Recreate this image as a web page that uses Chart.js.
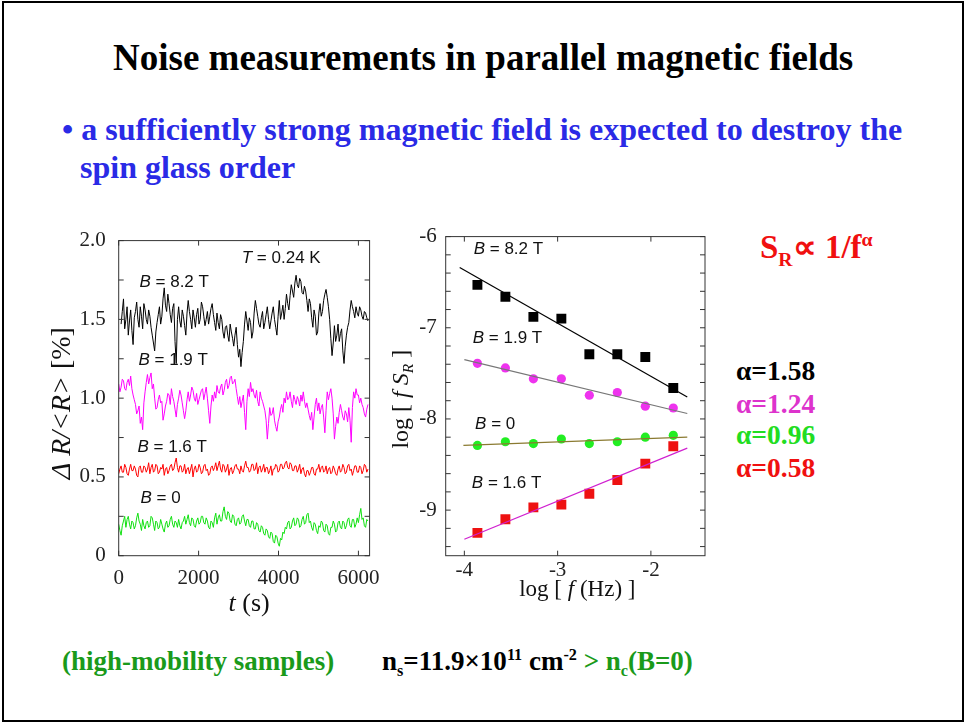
<!DOCTYPE html>
<html>
<head>
<meta charset="utf-8">
<script src="https://cdn.jsdelivr.net/npm/chart.js"></script>
<style>
  html, body { margin: 0; padding: 0; background: #fff; }
  #page { position: relative; width: 966px; height: 724px; overflow: hidden; background: #fff; }
  #frame { position: absolute; left: 2px; top: 1px; width: 958px; height: 717px; border: 2px solid #000; }
  .txt { position: absolute; white-space: nowrap; font-family: "Liberation Serif", serif; font-weight: bold; line-height: 1; }
  canvas { position: absolute; }
  sub, sup { font-size: 60%; line-height: 0; }
</style>
</head>
<body>
<div id="page">
  <div id="frame"></div>
  <div class="txt" style="left:113px; top:39px; font-size:37px; color:#000;">Noise measurements in parallel magnetic fields</div>
  <div class="txt" style="left:62px; top:113px; font-size:32px; color:#2a2ae6;">&bull; a sufficiently strong magnetic field is expected to destroy the</div>
  <div class="txt" style="left:80px; top:151px; font-size:32px; color:#2a2ae6;">spin glass order</div>
  <div class="txt" style="left:760px; top:231px; font-size:33px; color:#f01010;">S<sub>R</sub>&prop; 1/f<sup>&alpha;</sup></div>
  <div class="txt" style="left:736px; top:357px; font-size:27.5px; color:#000;">&alpha;=1.58</div>
  <div class="txt" style="left:736px; top:389.7px; font-size:27.5px; color:#dd33cc;">&alpha;=1.24</div>
  <div class="txt" style="left:736px; top:421px; font-size:27.5px; color:#22dd22;">&alpha;=0.96</div>
  <div class="txt" style="left:736px; top:453.7px; font-size:27.5px; color:#f01010;">&alpha;=0.58</div>
  <div class="txt" style="left:62px; top:648px; font-size:27px; color:#1a9a1a;">(high-mobility samples)</div>
  <div class="txt" style="left:382px; top:648px; font-size:27px; color:#000;">n<sub>s</sub>=11.9&times;10<sup>11</sup> cm<sup>-2</sup> <span style="color:#1a9a1a">&gt; n<sub>c</sub>(B=0)</span></div>
  <canvas id="left" width="340" height="410" style="left:50px; top:215px;"></canvas>
  <canvas id="right" width="335" height="410" style="left:385px; top:215px;"></canvas>
</div>
<script>
// ---- left panel: resistance noise vs time (t in s, values in %) ----
const times = [0,30,60,90,120,150,180,210,240,270,300,330,360,390,420,450,480,510,540,570,
  600,630,660,690,720,750,780,810,840,870,900,930,960,990,1020,1050,1080,1110,1140,1170,
  1200,1230,1260,1290,1320,1350,1380,1410,1440,1470,1500,1530,1560,1590,1620,1650,1680,1710,1740,1770,
  1800,1830,1860,1890,1920,1950,1980,2010,2040,2070,2100,2130,2160,2190,2220,2250,2280,2310,2340,2370,
  2400,2430,2460,2490,2520,2550,2580,2610,2640,2670,2700,2730,2760,2790,2820,2850,2880,2910,2940,2970,
  3000,3030,3060,3090,3120,3150,3180,3210,3240,3270,3300,3330,3360,3390,3420,3450,3480,3510,3540,3570,
  3600,3630,3660,3690,3720,3750,3780,3810,3840,3870,3900,3930,3960,3990,4020,4050,4080,4110,4140,4170,
  4200,4230,4260,4290,4320,4350,4380,4410,4440,4470,4500,4530,4560,4590,4620,4650,4680,4710,4740,4770,
  4800,4830,4860,4890,4920,4950,4980,5010,5040,5070,5100,5130,5160,5190,5220,5250,5280,5310,5340,5370,
  5400,5430,5460,5490,5520,5550,5580,5610,5640,5670,5700,5730,5760,5790,5820,5850,5880,5910,5940,5970,
  6000,6030,6060,6090,6120,6150,6180,6210,6240];

const noiseB82 = [null, null,
  1.47,1.55,1.63,1.44,1.50,1.58,1.40,1.49,1.56,1.43,1.34,1.51,1.55,1.61,1.50,1.45,1.58,1.52,1.44,1.60,
  1.56,1.50,1.47,1.56,1.52,1.45,1.40,1.35,1.30,1.42,1.48,1.53,1.58,1.47,1.52,1.63,1.70,1.59,1.55,1.66,
  1.60,1.53,1.48,1.57,1.60,1.36,1.22,1.50,1.58,1.49,1.45,1.56,1.52,1.46,1.40,1.54,1.62,1.55,1.50,1.44,
  1.56,1.51,1.45,1.53,1.57,1.47,1.50,1.61,1.58,1.52,1.46,1.50,1.55,1.47,1.52,1.57,1.60,1.53,1.48,1.43,
  1.54,1.48,1.44,1.53,1.50,1.42,1.38,1.45,1.46,1.40,1.36,1.47,1.42,1.38,1.33,1.40,1.45,1.34,1.26,1.31,
  1.20,1.29,1.36,1.47,1.55,1.49,1.43,1.51,1.48,1.38,1.42,1.54,1.62,1.57,1.52,1.47,1.45,1.51,1.55,1.44,
  1.48,1.53,1.58,1.50,1.44,1.49,1.54,1.58,1.50,1.45,1.40,1.52,1.62,1.50,1.54,1.59,1.50,1.57,1.66,1.60,
  1.56,1.65,1.72,1.68,1.64,1.73,1.78,1.72,1.70,1.76,1.74,1.67,1.66,1.71,1.68,1.62,1.55,1.63,1.60,1.51,
  1.45,1.56,1.52,1.40,1.42,1.54,1.60,1.52,1.55,1.62,1.66,1.69,1.64,1.58,1.50,1.38,1.27,1.35,1.46,1.36,
  1.40,1.47,1.36,1.41,1.44,1.30,1.22,1.33,1.40,1.45,1.48,1.56,1.62,1.58,1.55,1.51,1.58,1.54,1.52,1.58,
  1.56,1.52,1.50,1.55,1.54,1.51,1.49];

const noiseB19 = [
  1.09,1.04,1.07,1.12,1.11,1.06,1.05,1.10,1.12,1.08,1.14,1.06,1.02,0.99,0.96,0.90,0.92,0.95,0.84,0.88,
  0.80,0.97,1.04,1.10,1.15,1.09,1.13,1.16,1.06,1.09,1.00,0.93,0.94,0.99,1.02,0.97,0.98,0.86,0.90,0.95,
  0.98,1.03,1.02,0.96,1.06,1.01,0.98,0.93,0.88,0.96,1.00,1.05,1.02,0.97,0.92,0.87,0.92,0.99,1.04,0.98,
  1.02,1.07,1.05,1.00,0.98,1.03,0.96,0.99,1.02,1.05,1.06,0.99,1.03,1.07,1.00,0.92,0.84,0.95,1.02,0.98,
  1.04,1.00,1.08,1.04,1.03,1.07,1.09,1.02,1.05,1.10,1.12,1.06,1.08,1.13,1.14,1.09,1.10,1.12,1.06,1.01,
  0.96,1.01,0.94,0.98,1.02,0.91,0.80,0.98,1.06,1.01,1.10,1.04,1.06,1.02,1.00,1.05,0.98,0.95,1.04,1.00,
  0.98,0.95,0.92,0.86,0.74,0.84,0.94,0.89,0.90,0.94,0.86,0.82,0.79,0.85,0.88,0.93,0.96,0.91,1.00,0.97,
  1.04,0.99,1.00,1.04,0.98,0.94,1.02,0.99,0.96,1.01,0.99,0.95,1.02,0.98,1.04,0.98,0.94,0.97,0.93,0.89,
  0.86,0.91,0.80,0.88,0.96,1.00,0.92,0.97,0.90,0.94,0.96,0.88,0.78,0.92,1.04,0.99,1.03,1.06,1.00,0.90,
  0.74,0.82,0.88,0.84,0.91,0.96,0.92,0.88,0.86,0.92,0.90,0.85,0.94,0.86,0.72,0.94,1.04,1.00,1.06,1.02,
  1.02,0.97,1.00,0.96,0.94,0.90,0.88,0.93,0.96];

const noiseB16 = [
  0.52,0.55,0.57,0.53,0.53,0.58,0.56,0.52,0.51,0.55,0.58,0.54,0.54,0.57,0.55,0.51,0.50,0.56,0.57,0.53,
  0.53,0.57,0.56,0.53,0.55,0.59,0.52,0.56,0.58,0.53,0.54,0.58,0.57,0.52,0.53,0.56,0.55,0.58,0.51,0.55,
  0.56,0.52,0.54,0.57,0.58,0.54,0.55,0.59,0.62,0.56,0.53,0.57,0.57,0.53,0.54,0.58,0.52,0.55,0.56,0.52,
  0.55,0.58,0.50,0.55,0.57,0.53,0.54,0.58,0.56,0.52,0.53,0.57,0.58,0.54,0.55,0.51,0.52,0.56,0.57,0.54,
  0.56,0.59,0.54,0.57,0.60,0.55,0.53,0.58,0.57,0.53,0.55,0.58,0.51,0.55,0.56,0.52,0.54,0.57,0.58,0.55,
  0.55,0.52,0.57,0.54,0.53,0.57,0.60,0.56,0.56,0.53,0.54,0.58,0.58,0.54,0.55,0.59,0.52,0.56,0.57,0.53,
  0.55,0.58,0.53,0.56,0.56,0.52,0.54,0.57,0.51,0.55,0.55,0.58,0.57,0.53,0.54,0.58,0.58,0.55,0.56,0.59,
  0.60,0.56,0.55,0.59,0.58,0.54,0.54,0.57,0.57,0.53,0.55,0.58,0.52,0.55,0.56,0.52,0.50,0.54,0.54,0.51,
  0.53,0.56,0.56,0.52,0.51,0.55,0.55,0.58,0.53,0.56,0.57,0.53,0.54,0.57,0.52,0.55,0.56,0.52,0.53,0.57,
  0.55,0.52,0.51,0.55,0.57,0.53,0.54,0.58,0.56,0.52,0.53,0.57,0.58,0.54,0.55,0.51,0.54,0.57,0.57,0.53,
  0.53,0.57,0.56,0.52,0.54,0.58,0.57,0.53,0.55];

const noiseB0 = [
  0.20,0.16,0.13,0.19,0.22,0.25,0.18,0.23,0.25,0.20,0.17,0.22,0.21,0.17,0.19,0.24,0.27,0.22,0.20,0.16,
  0.23,0.19,0.17,0.21,0.22,0.18,0.19,0.25,0.24,0.20,0.16,0.22,0.21,0.17,0.18,0.23,0.20,0.17,0.15,0.20,
  0.22,0.18,0.19,0.23,0.25,0.20,0.18,0.22,0.21,0.18,0.23,0.19,0.17,0.21,0.22,0.25,0.20,0.23,0.26,0.21,
  0.19,0.24,0.23,0.19,0.18,0.22,0.24,0.20,0.21,0.25,0.25,0.21,0.20,0.24,0.22,0.18,0.17,0.22,0.21,0.18,
  0.24,0.27,0.20,0.24,0.26,0.22,0.22,0.28,0.31,0.25,0.23,0.28,0.27,0.22,0.21,0.26,0.25,0.20,0.19,0.23,
  0.24,0.20,0.21,0.25,0.26,0.22,0.19,0.23,0.23,0.19,0.18,0.22,0.22,0.17,0.17,0.21,0.20,0.16,0.15,0.19,
  0.18,0.14,0.13,0.17,0.16,0.12,0.11,0.15,0.14,0.09,0.08,0.13,0.12,0.08,0.06,0.11,0.10,0.15,0.14,0.18,
  0.17,0.21,0.22,0.17,0.18,0.22,0.24,0.19,0.20,0.24,0.23,0.18,0.19,0.23,0.25,0.20,0.21,0.26,0.27,0.21,
  0.22,0.18,0.16,0.21,0.20,0.16,0.14,0.19,0.18,0.22,0.21,0.16,0.15,0.20,0.19,0.14,0.13,0.18,0.18,0.22,
  0.20,0.15,0.16,0.21,0.22,0.18,0.17,0.22,0.21,0.17,0.19,0.23,0.24,0.19,0.18,0.23,0.23,0.18,0.20,0.24,
  0.21,0.26,0.30,0.23,0.24,0.19,0.18,0.23,0.22];

const leftXTicks = [0, 2000, 4000, 6000];
const leftXTickLabels = ["0", "2000", "4000", "6000"];
const leftYTicks = [0, 0.5, 1.0, 1.5, 2.0];
const leftYTickLabels = ["0", "0.5", "1.0", "1.5", "2.0"];
const leftYMinor = [0.25, 0.75, 1.25, 1.75];

// ---- right panel: spectra, log f S_R vs log f ----
const logF = [-3.86, -3.56, -3.26, -2.96, -2.66, -2.36, -2.06, -1.76];
const specB82 = [-6.53, -6.66, -6.88, -6.90, -7.29, -7.29, -7.32, -7.66];
const specB19 = [-7.39, -7.44, -7.56, -7.56, -7.74, -7.71, -7.86, -7.88];
const specB0 = [-8.29, -8.25, -8.27, -8.22, -8.27, -8.25, -8.20, -8.18];
const specB16 = [-9.25, -9.10, -8.97, -8.94, -8.82, -8.67, -8.49, -8.30];

// fitted straight lines (end points)
const fitB82X = [-4.05, -1.61], fitB82Y = [-6.34, -7.76];
const fitB19X = [-4.00, -1.61], fitB19Y = [-7.35, -7.94];
const fitB0X = [-4.01, -1.61], fitB0Y = [-8.29, -8.20];
const fitB16X = [-4.00, -1.61], fitB16Y = [-9.32, -8.32];

const rightXTicks = [-4, -3, -2];
const rightXTickLabels = ["-4", "-3", "-2"];
const rightYTicks = [-9, -8, -7, -6];
const rightYTickLabels = ["-9", "-8", "-7", "-6"];
const rightYMinor = [-9.4, -9.2, -8.8, -8.6, -8.4, -8.2, -7.8, -7.6, -7.4, -7.2, -6.8, -6.6, -6.4, -6.2];

const pts = (xs, ys) => xs.map((x, i) => ({ x: x, y: ys[i] }));
const tickFont = { family: "Liberation Serif", size: 21 };

function setTicks(values, labels) {
  return function (scale) {
    scale.ticks = values.map((v, i) => ({ value: v, label: labels[i] }));
  };
}

// frame + inward tick marks
const framePlugin = {
  id: "frameTicks",
  afterDatasetsDraw(chart, args, opts) {
    const ctx = chart.ctx, a = chart.chartArea;
    const xs = chart.scales.x, ys = chart.scales.y;
    ctx.save();
    ctx.strokeStyle = "#333";
    ctx.lineWidth = 1;
    ctx.strokeRect(a.left, a.top, a.right - a.left, a.bottom - a.top);
    ctx.beginPath();
    opts.y.forEach(v => {
      const py = ys.getPixelForValue(v);
      ctx.moveTo(a.left, py); ctx.lineTo(a.left + 5, py);
      ctx.moveTo(a.right, py); ctx.lineTo(a.right - 5, py);
    });
    opts.x.forEach(v => {
      const px = xs.getPixelForValue(v);
      ctx.moveTo(px, a.bottom); ctx.lineTo(px, a.bottom - 5);
      ctx.moveTo(px, a.top); ctx.lineTo(px, a.top + 5);
    });
    ctx.stroke();
    ctx.restore();
  }
};

// text with mixed italic / subscript pieces: [text, italic, subscript]
function pieceFont(p, size, family) {
  return (p[1] ? "italic " : "") + (p[2] ? size * 0.65 : size) + "px " + family;
}
function drawPieces(ctx, x, y, pieces, family, size, align) {
  let total = 0;
  pieces.forEach(p => {
    ctx.font = pieceFont(p, size, family);
    total += ctx.measureText(p[0]).width;
  });
  let cx = align === "center" ? x - total / 2 : x;
  pieces.forEach(p => {
    ctx.font = pieceFont(p, size, family);
    ctx.fillText(p[0], cx, p[2] ? y + size * 0.3 : y);
    cx += ctx.measureText(p[0]).width;
  });
}

const labelPlugin = {
  id: "labels",
  afterDraw(chart, args, opts) {
    const ctx = chart.ctx, a = chart.chartArea;
    const xs = chart.scales.x, ys = chart.scales.y;
    ctx.save();
    ctx.fillStyle = "#111";
    ctx.textBaseline = "middle";
    ctx.textAlign = "left";
    opts.notes.forEach(n => {
      drawPieces(ctx, xs.getPixelForValue(n.x), ys.getPixelForValue(n.y), n.pieces, "Liberation Sans", 17, "left");
    });
    // x axis title
    drawPieces(ctx, (a.left + a.right) / 2 + opts.xTitleDx, a.bottom + opts.xTitleDy, opts.xTitle, "Liberation Serif", opts.xTitleSize, "center");
    // y axis title (rotated)
    ctx.translate(a.left + opts.yTitleDx, (a.top + a.bottom) / 2 + opts.yTitleDy);
    ctx.rotate(-Math.PI / 2);
    drawPieces(ctx, 0, 0, opts.yTitle, "Liberation Serif", opts.yTitleSize, "center");
    ctx.restore();
  }
};

function lineSet(ys, color) {
  return { data: pts(times, ys), borderColor: color, borderWidth: 1, pointRadius: 0, tension: 0, spanGaps: false };
}

new Chart(document.getElementById("left"), {
  type: "line",
  data: {
    datasets: [
      lineSet(noiseB82, "#000000"),
      lineSet(noiseB19, "#ff00ff"),
      lineSet(noiseB16, "#ff0000"),
      lineSet(noiseB0, "#10e010")
    ]
  },
  plugins: [framePlugin, labelPlugin],
  options: {
    responsive: false,
    animation: false,
    devicePixelRatio: 1,
    layout: { padding: { top: 14, right: 13.3, left: 0, bottom: 0 } },
    plugins: {
      legend: { display: false },
      tooltip: { enabled: false },
      frameTicks: { x: leftXTicks, y: leftYTicks.concat(leftYMinor) },
      labels: {
        notes: [
          { x: 3080, y: 1.885, pieces: [["T", true], [" = 0.24 K", false]] },
          { x: 520, y: 1.737, pieces: [["B", true], [" = 8.2 T", false]] },
          { x: 495, y: 1.241, pieces: [["B", true], [" = 1.9 T", false]] },
          { x: 470, y: 0.690, pieces: [["B", true], [" = 1.6 T", false]] },
          { x: 545, y: 0.366, pieces: [["B", true], [" = 0", false]] }
        ],
        xTitle: [["t", true], [" (s)", false]],
        xTitleDx: 5, xTitleDy: 48, xTitleSize: 26,
        yTitle: [["\u0394 R/<R>", true], [" [%]", false]],
        yTitleDx: -56, yTitleDy: 5, yTitleSize: 28
      }
    },
    scales: {
      x: {
        type: "linear", min: 0, max: 6280,
        afterBuildTicks: setTicks(leftXTicks, leftXTickLabels),
        afterFit: s => { s.height = 69.3; },
        grid: { display: false, drawTicks: false },
        border: { display: false },
        ticks: { font: tickFont, color: "#222", padding: 10, maxRotation: 0, autoSkip: false, callback: (v, i) => leftXTickLabels[i] }
      },
      y: {
        type: "linear", min: 0, max: 2.0,
        afterBuildTicks: setTicks(leftYTicks, leftYTickLabels),
        afterFit: s => { s.width = 68.7; },
        grid: { display: false, drawTicks: false },
        border: { display: false },
        ticks: { font: tickFont, color: "#222", padding: 13, autoSkip: false, callback: (v, i) => leftYTickLabels[i] }
      }
    }
  }
});

function markerSet(ys, color, style, r) {
  return { type: "scatter", data: pts(logF, ys), backgroundColor: color, borderColor: color, borderWidth: 0, pointStyle: style, pointRadius: r };
}
function fitSet(xs, ys, color) {
  return { type: "line", data: pts(xs, ys), borderColor: color, borderWidth: 1.2, pointRadius: 0, showLine: true };
}

new Chart(document.getElementById("right"), {
  type: "scatter",
  data: {
    datasets: [
      fitSet(fitB82X, fitB82Y, "#000000"),
      fitSet(fitB19X, fitB19Y, "#777777"),
      fitSet(fitB0X, fitB0Y, "#8a7a30"),
      fitSet(fitB16X, fitB16Y, "#d020d0"),
      markerSet(specB82, "#000000", "rect", 7),
      markerSet(specB19, "#ee33ee", "circle", 4.6),
      markerSet(specB0, "#22ee22", "circle", 4.6),
      markerSet(specB16, "#ee1111", "rect", 7)
    ]
  },
  plugins: [framePlugin, labelPlugin],
  options: {
    responsive: false,
    animation: false,
    devicePixelRatio: 1,
    layout: { padding: { top: 14, right: 15, left: 0, bottom: 0 } },
    plugins: {
      legend: { display: false },
      tooltip: { enabled: false },
      frameTicks: { x: rightXTicks, y: rightYTicks.concat(rightYMinor) },
      labels: {
        notes: [
          { x: -3.90, y: -6.136, pieces: [["B", true], [" = 8.2 T", false]] },
          { x: -3.91, y: -7.117, pieces: [["B", true], [" = 1.9 T", false]] },
          { x: -3.885, y: -8.063, pieces: [["B", true], [" = 0", false]] },
          { x: -3.92, y: -8.706, pieces: [["B", true], [" = 1.6 T", false]] }
        ],
        xTitle: [["log [ ", false], ["f", true], [" (Hz) ]", false]],
        xTitleDx: 2, xTitleDy: 34, xTitleSize: 23,
        yTitle: [["log [ ", false], ["f S", true], ["R", true, true], [" ]", false]],
        yTitleDx: -44, yTitleDy: 3, yTitleSize: 24
      }
    },
    scales: {
      x: {
        type: "linear", min: -4.2, max: -1.42,
        afterBuildTicks: setTicks(rightXTicks, rightXTickLabels),
        afterFit: s => { s.height = 69.3; },
        grid: { display: false, drawTicks: false },
        border: { display: false },
        ticks: { font: tickFont, color: "#222", padding: 2, maxRotation: 0, autoSkip: false, callback: (v, i) => rightXTickLabels[i] }
      },
      y: {
        type: "linear", min: -9.5, max: -6,
        afterBuildTicks: setTicks(rightYTicks, rightYTickLabels),
        afterFit: s => { s.width = 60.7; },
        grid: { display: false, drawTicks: false },
        border: { display: false },
        ticks: { font: tickFont, color: "#222", padding: 9, autoSkip: false, callback: (v, i) => rightYTickLabels[i] }
      }
    }
  }
});
</script>
</body>
</html>
